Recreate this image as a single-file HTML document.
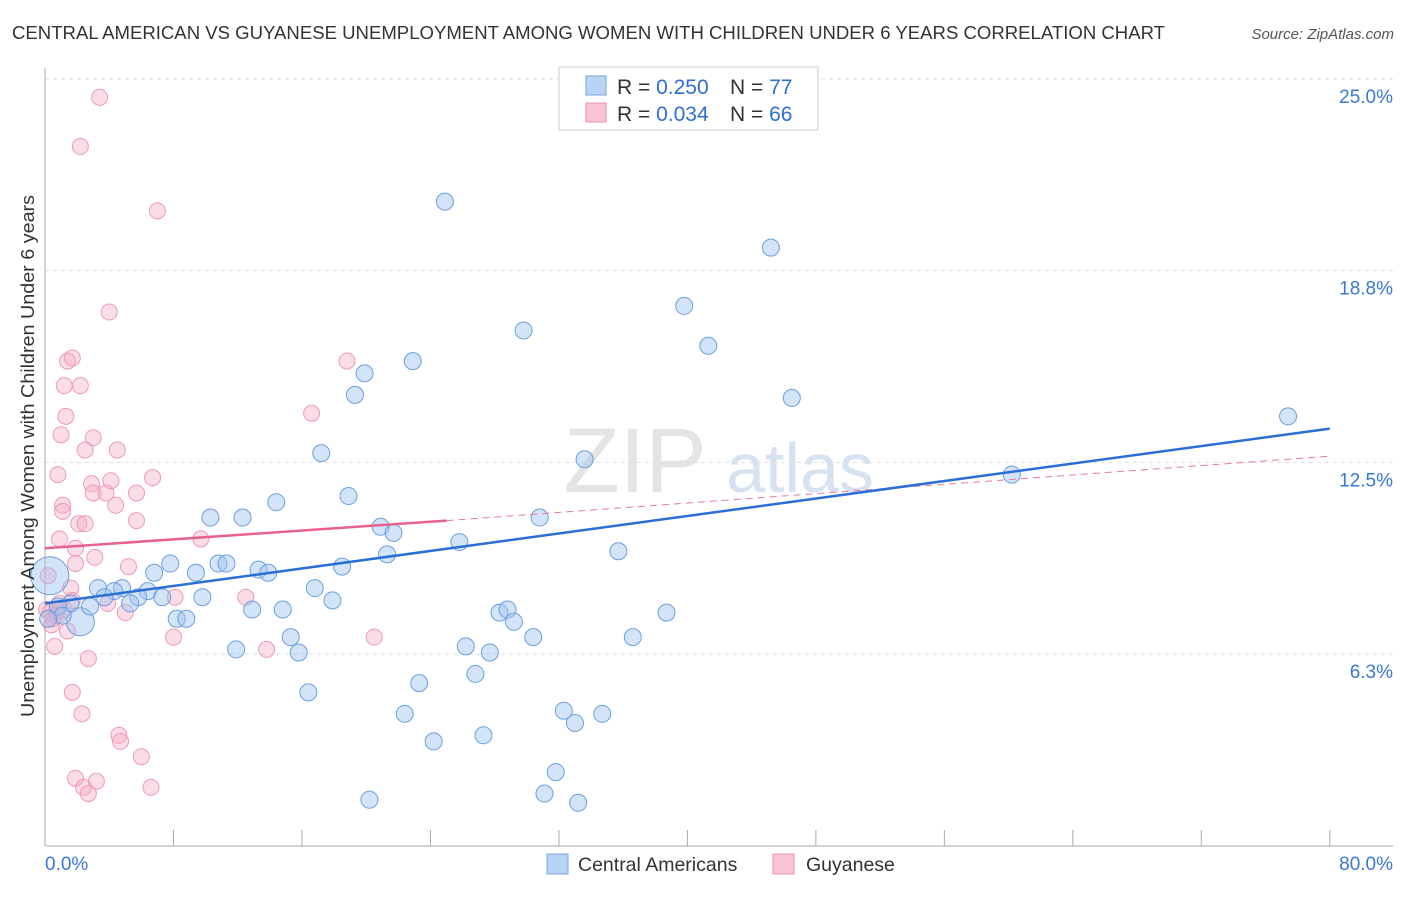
<!DOCTYPE html>
<html><head><meta charset="utf-8"><style>
body{margin:0;background:#fff;font-family:"Liberation Sans",sans-serif;}
svg text{font-family:"Liberation Sans",sans-serif;}
</style></head><body>
<svg id="chart" width="1406" height="892" xmlns="http://www.w3.org/2000/svg">
<text x="12" y="39" font-size="18.6" fill="#333" textLength="1153" lengthAdjust="spacingAndGlyphs">CENTRAL AMERICAN VS GUYANESE UNEMPLOYMENT AMONG WOMEN WITH CHILDREN UNDER 6 YEARS CORRELATION CHART</text>
<text x="1394" y="39" font-size="15" fill="#555" text-anchor="end" font-style="italic">Source: ZipAtlas.com</text>
<g><text x="635" y="492" font-size="92" fill="#e4e4e4" text-anchor="middle" font-family="Liberation Serif">ZIP</text><text x="800" y="492" font-size="70" fill="#d6e2f2" text-anchor="middle">atlas</text></g>
<g id="grid"></g><g id="axes"></g><g id="pts"></g><g id="lines"></g>
<text transform="translate(34,456) rotate(-90)" font-size="18.5" fill="#333" text-anchor="middle" textLength="522" lengthAdjust="spacingAndGlyphs">Unemployment Among Women with Children Under 6 years</text>
<text x="45" y="870" font-size="19" fill="#3a78d4">0.0%</text>
<text x="1393" y="870" font-size="19" fill="#3a78d4" text-anchor="end">80.0%</text>
<g>
<rect x="559" y="67" width="259" height="63" fill="#fff" stroke="#ccc"/>
<rect x="586" y="76" width="20" height="19" fill="#b9d3f4" stroke="#7aa6e0"/>
<rect x="586" y="103" width="20" height="19" fill="#f9c4d3" stroke="#ec92ac"/>
<text x="617" y="94" font-size="21" fill="#333">R = <tspan fill="#2f6fd0">0.250</tspan></text>
<text x="730" y="94" font-size="21" fill="#333">N = <tspan fill="#2f6fd0">77</tspan></text>
<text x="617" y="121" font-size="21" fill="#333">R = <tspan fill="#2f6fd0">0.034</tspan></text>
<text x="730" y="121" font-size="21" fill="#333">N = <tspan fill="#2f6fd0">66</tspan></text>
</g>
<g>
<rect x="547" y="854" width="21" height="20" fill="#b9d3f4" stroke="#7aa6e0"/>
<text x="578" y="871" font-size="19.5" fill="#333">Central Americans</text>
<rect x="773" y="854" width="21" height="20" fill="#f9c4d3" stroke="#ec92ac"/>
<text x="806" y="871" font-size="19.5" fill="#333">Guyanese</text>
</g>
</svg>
<script>
const yTicks=[6.3,12.5,18.8,25.0];
const yTickVals=[6.25,12.5,18.75,25];
const blueX=[24.9,45.2,39.8,41.3,29.8,22.9,19.9,19.3,46.5,77.4,17.2,33.6,60.2,14.4,18.9,10.3,12.3,30.8,20.9,21.7,25.8,35.7,21.3,7.8,10.8,11.3,9.4,13.3,13.9,18.5,6.8,3.3,4.8,4.3,6.4,16.8,5.8,7.3,9.8,3.7,5.3,17.9,12.9,14.8,28.3,28.8,38.7,8.2,8.8,29.2,15.3,30.4,36.6,26.2,11.9,15.8,27.7,26.8,23.3,16.4,22.4,32.3,34.7,33.0,24.2,27.3,31.8,31.1,33.2,20.2,0.3,2.2,1.6,0.8,2.8,1.1,0.2];
const blueY=[21.0,19.5,17.6,16.3,16.8,15.8,15.4,14.7,14.6,14.0,12.8,12.6,12.1,11.2,11.4,10.7,10.7,10.7,10.4,10.2,9.9,9.6,9.5,9.2,9.2,9.2,8.9,9.0,8.9,9.1,8.9,8.4,8.4,8.3,8.3,8.4,8.1,8.1,8.1,8.1,7.9,8.0,7.7,7.7,7.6,7.7,7.6,7.4,7.4,7.3,6.8,6.8,6.8,6.5,6.4,6.3,6.3,5.6,5.3,5.0,4.3,4.4,4.3,4.0,3.4,3.6,2.4,1.7,1.4,1.5,8.8,7.3,7.9,7.8,7.8,7.5,7.4];
const blueBig=[70,71];
const pinkX=[3.4,2.2,7.0,4.0,18.8,1.4,1.7,1.2,2.2,1.3,16.6,1.0,3.0,4.5,2.5,0.8,6.7,4.1,2.9,3.0,5.7,3.8,1.1,4.4,1.1,5.7,2.1,2.5,9.7,0.9,1.9,3.1,1.9,5.2,0.2,1.6,12.5,8.1,1.7,3.9,5.0,0.7,0.4,1.4,20.5,8.0,0.6,13.8,2.7,1.7,2.3,4.6,4.7,6.0,1.9,3.2,2.4,2.7,6.6,0.6,0.1,0.9,0.3,0.5,1.2,0.8];
const pinkY=[24.4,22.8,20.7,17.4,15.8,15.8,15.9,15.0,15.0,14.0,14.1,13.4,13.3,12.9,12.9,12.1,12.0,11.9,11.8,11.5,11.5,11.5,11.1,11.1,10.9,10.6,10.5,10.5,10.0,10.0,9.7,9.4,9.2,9.1,8.8,8.4,8.1,8.1,8.0,7.9,7.6,7.6,7.2,7.0,6.8,6.8,6.5,6.4,6.1,5.0,4.3,3.6,3.4,2.9,2.2,2.1,1.9,1.7,1.9,7.5,7.7,7.9,7.6,7.4,7.7,7.5];
const blueLine=[[0,7.9],[80,13.6]];
const pinkLine=[[0,9.7],[25,10.6]];
const pinkDash=[[25,10.6],[80,12.7]];
const xs=v=>45+v*16.06, ys=v=>845.7-v*30.67;
const NS="http://www.w3.org/2000/svg";
function mk(t,a,p){const e=document.createElementNS(NS,t);for(const k in a)e.setAttribute(k,a[k]);p.appendChild(e);return e;}
const grid=document.getElementById('grid'),axes=document.getElementById('axes'),pts=document.getElementById('pts'),lines=document.getElementById('lines');
yTickVals.forEach((v,i)=>{
 const l=mk('line',{x1:45,x2:1393,y1:ys(v),y2:ys(v),stroke:'#ddd','stroke-dasharray':'4,4'},grid);
 
 
 const t=mk('text',{x:1393,y:ys(v)+24,'font-size':19,fill:'#3a78d4','text-anchor':'end'},grid);
 t.textContent=yTicks[i].toFixed(1)+'%';
 
 
});
const ax=mk('line',{x1:45,x2:45,y1:68,y2:846,stroke:'#aaa'},axes);


const bx=mk('line',{x1:45,x2:1393,y1:846,y2:846,stroke:'#aaa'},axes);


for(let i=0;i<=10;i++){const tk=mk('line',{x1:xs(i*8),x2:xs(i*8),y1:830,y2:846,stroke:'#aaa'},axes);
 
 }
pinkX.forEach((x,i)=>{const c=mk('circle',{cx:xs(x),cy:ys(pinkY[i]),r:8,fill:'rgba(246,170,195,0.4)',stroke:'#ee9ab4','stroke-width':1},pts);
 
 });
blueX.forEach((x,i)=>{const big=blueBig.includes(i);const c=mk('circle',{cx:xs(x),cy:ys(blueY[i]),r:big?(i==70?19:14):8.5,fill:'rgba(160,196,240,0.45)',stroke:'#6a9fe0','stroke-width':1},pts);
 
 });
function ln(a,o,n){const e=mk('line',{x1:xs(a[0][0]),y1:ys(a[0][1]),x2:xs(a[1][0]),y2:ys(a[1][1]),...o},lines);
 
 }
ln(pinkDash,{stroke:'#e8799c','stroke-width':1,'stroke-dasharray':'7,5'},'guyanese-trend-extension');
ln(pinkLine,{stroke:'#e8628e','stroke-width':2.5},'guyanese-trendline');
ln(blueLine,{stroke:'#2a6fd6','stroke-width':2.5},'central-american-trendline');
</script>
</body></html>
